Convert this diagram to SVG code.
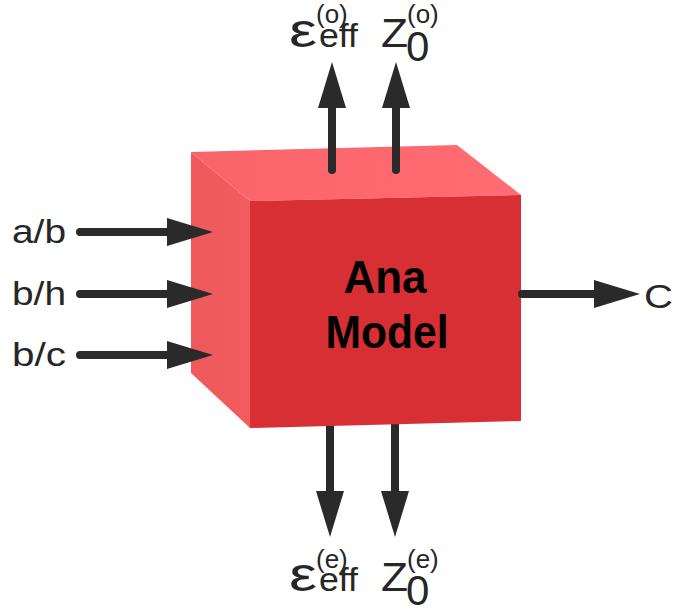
<svg xmlns="http://www.w3.org/2000/svg" width="676" height="612" viewBox="0 0 676 612">
  <style>
    .lbl { font-family: "Liberation Sans", Arial, sans-serif; fill: #262626; }
    .title { font-family: "Liberation Sans", Arial, sans-serif; font-weight: bold; fill: #000; font-size: 47px; text-anchor: middle; }
    .wire { stroke: #2a2a2a; stroke-width: 8; fill: none; stroke-linecap: round; }
    .wire-in { marker-end: url(#head); }
  </style>
  <defs>
    <marker id="head" viewBox="0 0 46 28" refX="3" refY="14" markerWidth="46" markerHeight="28" markerUnits="userSpaceOnUse" orient="auto">
      <path d="M0,0 L46,14 L0,28 Z" fill="#2a2a2a"/>
    </marker>
    <linearGradient id="topFace" x1="0" y1="0" x2="1" y2="0">
      <stop offset="0" stop-color="#F9646A"/>
      <stop offset="1" stop-color="#FF6C71"/>
    </linearGradient>
    <linearGradient id="sideFace" x1="0" y1="0" x2="1" y2="0">
      <stop offset="0" stop-color="#EE5A5B"/>
      <stop offset="1" stop-color="#F15D5E"/>
    </linearGradient>
  </defs>

  <!-- connectors that sit behind the block -->
  <g id="connectors-back">
    <path class="wire wire-in" d="M330,418 V494"/>
    <path class="wire wire-in" d="M395,418 V494"/>
  </g>

  <!-- the model block, drawn as a shaded cube -->
  <g id="ana-model">
    <polygon points="191,152 457,145 521,195 250,201" fill="url(#topFace)"/>
    <polygon points="191,152 250,201 250,428 191,373" fill="url(#sideFace)"/>
    <polygon points="250,201 521,195 521,421 250,428" fill="#D82F35"/>
    <text class="title" x="385" y="293" textLength="83" lengthAdjust="spacingAndGlyphs">Ana</text>
    <text class="title" x="387" y="348" textLength="123" lengthAdjust="spacingAndGlyphs">Model</text>
  </g>

  <!-- connectors drawn over the block -->
  <g id="connectors">
    <path class="wire wire-in" d="M80,232 H170"/>
    <path class="wire wire-in" d="M80,294 H170"/>
    <path class="wire wire-in" d="M80,355 H170"/>
    <path class="wire wire-in" d="M522,294 H597"/>
    <path class="wire wire-in" d="M332,170 V105"/>
    <path class="wire wire-in" d="M396,170 V105"/>
  </g>

  <!-- inputs -->
  <g id="in-ab"><text class="lbl" x="12" y="243" font-size="33" textLength="54" lengthAdjust="spacingAndGlyphs">a/b</text></g>
  <g id="in-bh"><text class="lbl" x="12" y="305" font-size="33" textLength="54" lengthAdjust="spacingAndGlyphs">b/h</text></g>
  <g id="in-bc"><text class="lbl" x="12" y="366" font-size="33" textLength="54" lengthAdjust="spacingAndGlyphs">b/c</text></g>

  <!-- outputs -->
  <g id="out-c"><text class="lbl" x="644" y="308" font-size="33" textLength="29" lengthAdjust="spacingAndGlyphs">C</text></g>

  <g id="out-eps-o">
    <text class="lbl" x="289" y="47" font-size="48" textLength="28" lengthAdjust="spacingAndGlyphs">ε</text>
    <text class="lbl" x="319" y="47" font-size="34" textLength="39" lengthAdjust="spacingAndGlyphs">eff</text>
    <text class="lbl" x="316" y="23" font-size="26">(o)</text>
  </g>
  <g id="out-z-o">
    <text class="lbl" x="381" y="47" font-size="40" textLength="27" lengthAdjust="spacingAndGlyphs">Z</text>
    <text class="lbl" x="406" y="61" font-size="42">0</text>
    <text class="lbl" x="407" y="23" font-size="26">(o)</text>
  </g>

  <g id="out-eps-e">
    <text class="lbl" x="289" y="591" font-size="48" textLength="28" lengthAdjust="spacingAndGlyphs">ε</text>
    <text class="lbl" x="319" y="591" font-size="34" textLength="39" lengthAdjust="spacingAndGlyphs">eff</text>
    <text class="lbl" x="316" y="568" font-size="26">(e)</text>
  </g>
  <g id="out-z-e">
    <text class="lbl" x="381" y="591" font-size="40" textLength="27" lengthAdjust="spacingAndGlyphs">Z</text>
    <text class="lbl" x="406" y="605" font-size="42">0</text>
    <text class="lbl" x="407" y="568" font-size="26">(e)</text>
  </g>
</svg>
